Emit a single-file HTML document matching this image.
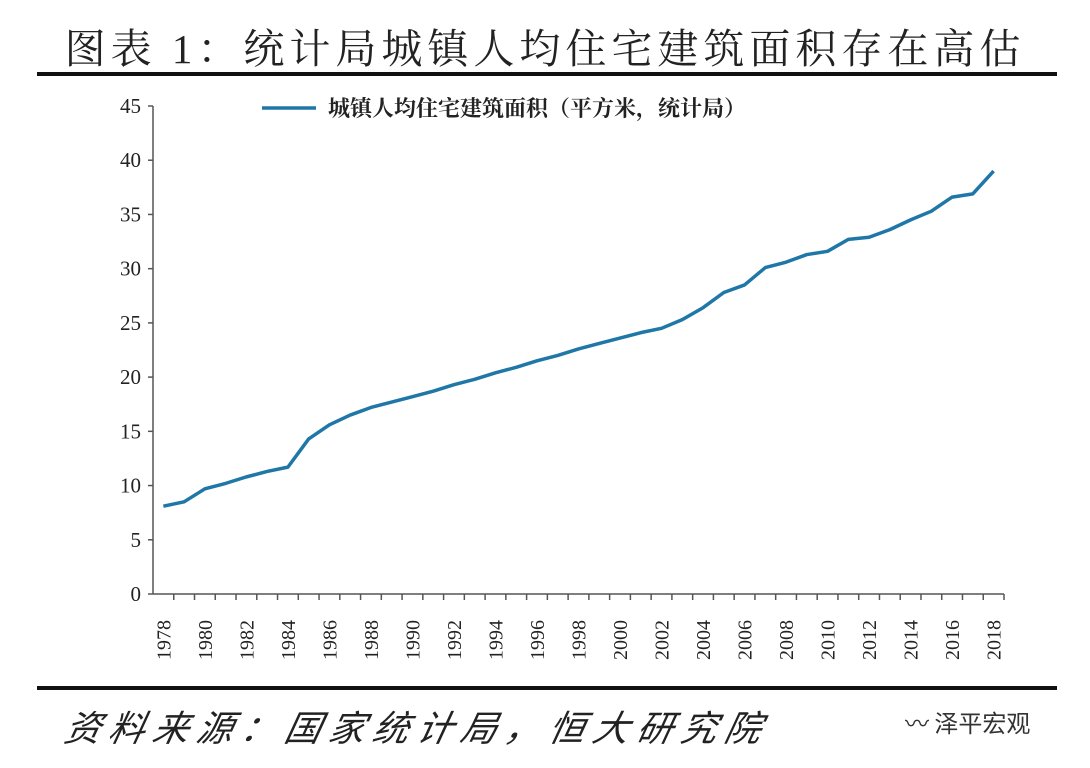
<!DOCTYPE html>
<html><head><meta charset="utf-8"><style>
body{margin:0;background:#fff;width:1090px;height:768px;overflow:hidden;position:relative;font-family:"Liberation Serif","Noto Serif CJK SC",serif}
.t{position:absolute;white-space:nowrap}
</style></head><body>
<div class="t" style="left:0;width:1090px;text-align:center;top:16px;font-size:41px;color:#222;letter-spacing:5px">图表 1：统计局城镇人均住宅建筑面积存在高估</div>
<div style="position:absolute;left:37px;top:72px;width:1020px;height:4px;background:#111"></div>
<div style="position:absolute;left:37px;top:686px;width:1020px;height:4px;background:#111"></div>
<div class="t" style="left:66px;top:700px;font-size:36px;letter-spacing:8px;font-style:italic;color:#222;font-family:'Noto Sans CJK SC',sans-serif;transform:skewX(-12deg)">资料来源：国家统计局，恒大研究院</div>
<div class="t" style="left:905px;top:704px;font-size:24px;color:#333;font-family:'Noto Sans CJK SC',sans-serif">〰 泽平宏观</div>
<svg id="c" width="1090" height="768" style="position:absolute;left:0;top:0"></svg>
<script>
const years=[];for(let y=1978;y<=2018;y++)years.push(y);
const values=[8.1,8.5,9.7,10.2,10.8,11.3,11.7,14.3,15.6,16.5,17.2,17.7,18.2,18.7,19.3,19.8,20.4,20.9,21.5,22.0,22.6,23.1,23.6,24.1,24.5,25.3,26.4,27.8,28.5,30.1,30.6,31.3,31.6,32.7,32.9,33.6,34.5,35.3,36.6,36.9,39.0];
const yTicks=[0,5,10,15,20,25,30,35,40,45];
const legendLabel="城镇人均住宅建筑面积（平方米，统计局）";
const NS="http://www.w3.org/2000/svg",svg=document.getElementById('c');
const x0=153,x1=1004,y0=594,y45=106;
const bw=(x1-x0)/years.length;
const X=i=>x0+(i+0.5)*bw, Y=v=>y0-(v/45)*(y0-y45);
function mk(t,a){const e=document.createElementNS(NS,t);for(const k in a)e.setAttribute(k,a[k]);svg.appendChild(e);return e;}
let e=mk('line',{x1:x0,y1:y45,x2:x0,y2:y0,stroke:'#555','stroke-width':1.5});

e=mk('line',{x1:x0,y1:y0,x2:x1,y2:y0,stroke:'#555','stroke-width':1.5});

yTicks.forEach(v=>{
 mk('line',{x1:x0-5,y1:Y(v),x2:x0,y2:Y(v),stroke:'#555','stroke-width':1.5});
 const t=mk('text',{x:x0-12,y:Y(v)+7,'text-anchor':'end','font-size':21,fill:'#222','font-family':'Liberation Serif,serif'});
 t.textContent=v;
 
 
});
years.forEach((yr,i)=>{
 mk('line',{x1:x0+(i+1)*bw,y1:y0,x2:x0+(i+1)*bw,y2:y0+6,stroke:'#555','stroke-width':1.5});
 if(i%2===0){
  const t=mk('text',{x:0,y:0,transform:`translate(${X(i)+7},${y0+66}) rotate(-90)`,'font-size':20,fill:'#222','font-family':'Liberation Serif,serif'});
  t.textContent=yr;
  
  
 }
});
const p=mk('polyline',{points:values.map((v,i)=>X(i)+','+Y(v)).join(' '),fill:'none',stroke:'#1f77a8','stroke-width':3.5,'stroke-linejoin':'round'});


e=mk('line',{x1:262,y1:108,x2:316,y2:108,stroke:'#1f77a8','stroke-width':3.5});

const lt=mk('text',{x:328,y:116,'font-size':22,'font-weight':'bold',fill:'#222','font-family':'Noto Serif CJK SC,serif'});
lt.textContent=legendLabel;


</script>
</body></html>
